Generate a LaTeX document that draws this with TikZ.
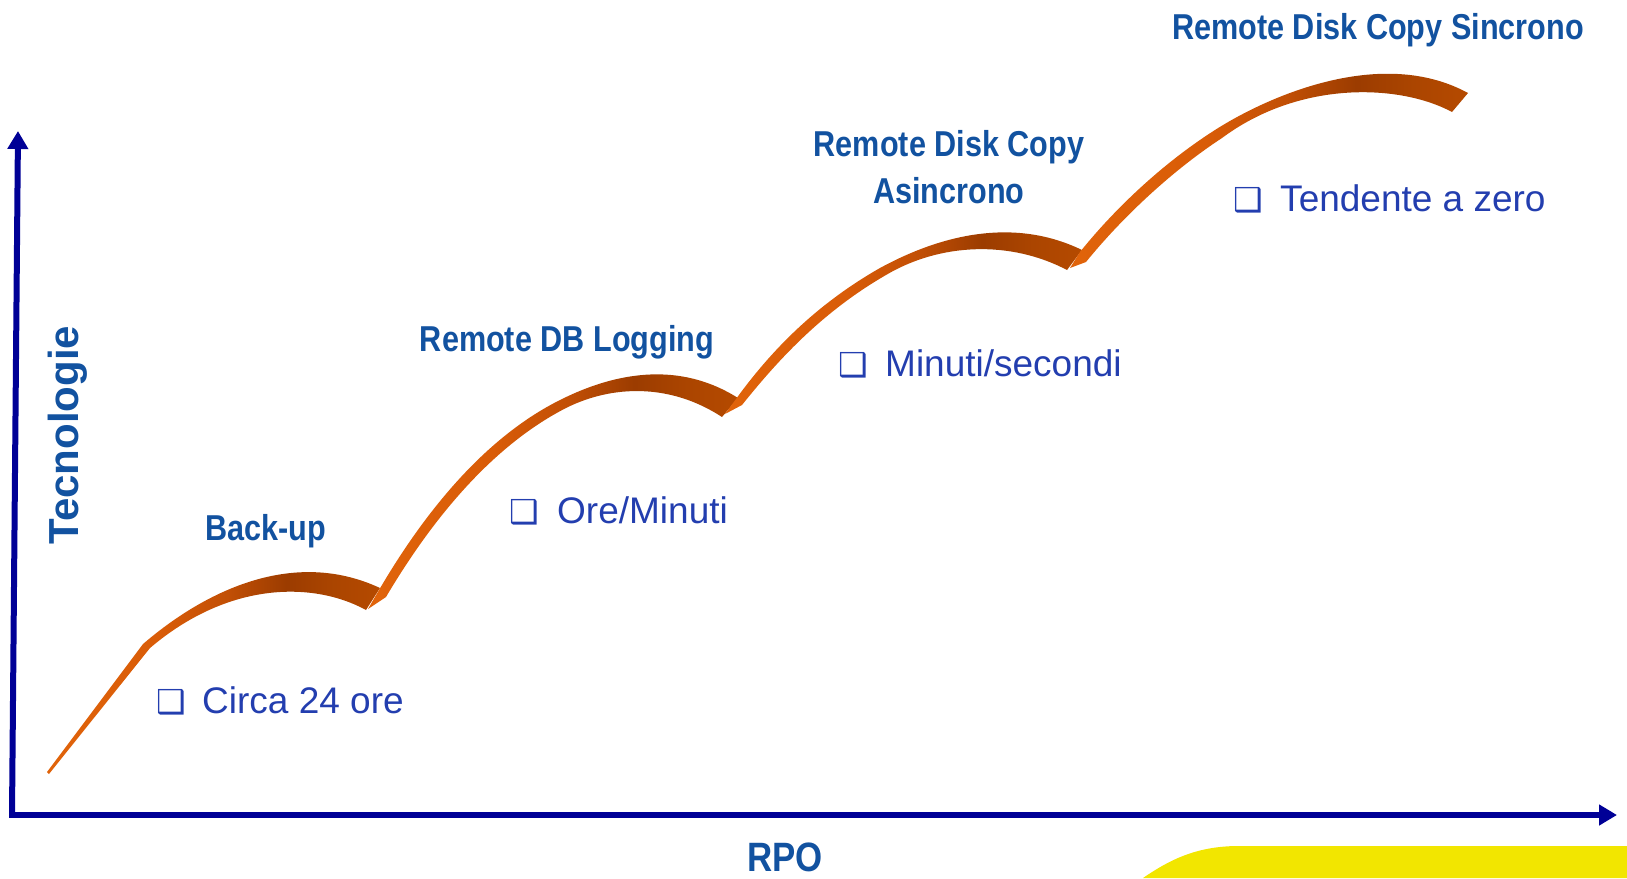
\documentclass[tikz,border=0pt]{standalone}
\usepackage{fontspec}
\usetikzlibrary{arrows.meta}
\newfontfamily\titlefont[FakeStretch=0.85]{Liberation Sans}
\newfontfamily\bodyfont{Liberation Sans}
\newfontfamily\dingfont{DejaVu Sans}
\definecolor{axisblue}{RGB}{0,0,150}
\definecolor{titleblue}{RGB}{18,82,160}
\definecolor{bodyblue}{RGB}{35,62,175}
\definecolor{sunyellow}{RGB}{242,230,0}
\pgfdeclarehorizontalshading{ribbonshade}{100bp}{rgb(0bp)=(0.88,0.39,0.04); rgb(25bp)=(0.88,0.39,0.04); rgb(42bp)=(0.85,0.36,0.03); rgb(52bp)=(0.76,0.31,0.02); rgb(61bp)=(0.61,0.235,0); rgb(68bp)=(0.67,0.27,0); rgb(75bp)=(0.71,0.29,0); rgb(100bp)=(0.71,0.29,0)}
\tikzset{
  axisline/.style={draw=axisblue, line width=6pt, -{Triangle[length=18pt,width=20pt]}},
  ribbon/.style={shading=ribbonshade},
  titletext/.style={font=\titlefont\bfseries\fontsize{36}{40}\selectfont, text=titleblue, inner sep=0pt, anchor=base},
  axistext/.style={font=\titlefont\bfseries\fontsize{41}{46}\selectfont, text=titleblue, inner sep=0pt, anchor=base},
  bodytext/.style={font=\bodyfont\fontsize{37}{42}\selectfont, text=bodyblue, inner sep=0pt, anchor=base west},
  bullettext/.style={font=\dingfont\fontsize{33}{36}\selectfont, text=bodyblue, inner sep=0pt, anchor=base west},
}
\begin{document}
\begin{tikzpicture}[x=1pt,y=-1pt]
\useasboundingbox (0,0) rectangle (1627,878);
% yellow corner
\fill[sunyellow] (1143,878) .. controls (1175,856) and (1200,847) .. (1235,846) -- (1627,846) -- (1627,878) -- cycle;
% axes
\coordinate (O) at (12,815);
\coordinate (ytip) at (18,131);
\coordinate (xtip) at (1617,815);
\draw[axisline] (O) -- (ytip);
\draw[axisline] (9,815) -- (xtip);
% ribbons
\shade[ribbon] (47,772) -- (143,644) .. controls (200,595) and (290,546) .. (380,588) -- (366,610) .. controls (315,582) and (230,580) .. (150,648) -- (49,774) -- cycle;
\shade[ribbon] (368,609) -- (379,590) .. controls (420,520) and (480,440) .. (560,400) .. controls (600,380) and (670,355) .. (738,398) -- (722,417) .. controls (670,383) and (612,385) .. (566,408) .. controls (488,448) and (428,526) .. (386,597) -- cycle;
\shade[ribbon] (725,414) -- (736,399) .. controls (770,352) and (815,305) .. (880,268) .. controls (935,238) and (1010,215) .. (1082,250) -- (1067,270) .. controls (1010,240) and (940,243) .. (886,275) .. controls (822,312) and (778,360) .. (742,405) -- cycle;
\shade[ribbon] (1070,268) -- (1080,252) .. controls (1112,212) and (1160,165) .. (1215,130) .. controls (1265,98) and (1380,45) .. (1468,93) -- (1452,112) .. controls (1400,84) and (1300,80) .. (1222,138) .. controls (1170,172) and (1120,220) .. (1086,262) -- cycle;
% titles
\node[titletext] (backup) at (266,540) {Back-up};
\node[titletext] (rdb) at (567,351) {Remote DB Logging};
\node[titletext] (rdca1) at (949,156) {Remote Disk Copy};
\node[titletext] (rdca2) at (949,203) {Asincrono};
\node[titletext] (rdcs) at (1378,39) {Remote Disk Copy Sincrono};
% axis labels
\node[axistext] (rpo) at (785,871) {RPO};
\node[axistext, font=\bodyfont\bfseries\fontsize{42}{46}\selectfont, rotate=90] (tec) at (78,435) {Tecnologie};
% bullets
\node[bullettext] (b1) at (156,713) {❑};
\node[bodytext] (t1) at (202,713) {Circa 24 ore};
\node[bullettext] (b2) at (509,523) {❑};
\node[bodytext] (t2) at (557,523) {Ore/Minuti};
\node[bullettext] (b3) at (838,376) {❑};
\node[bodytext] (t3) at (885,376) {Minuti/secondi};
\node[bullettext] (b4) at (1233,211) {❑};
\node[bodytext] (t4) at (1280,211) {Tendente a zero};
\end{tikzpicture}
\end{document}
